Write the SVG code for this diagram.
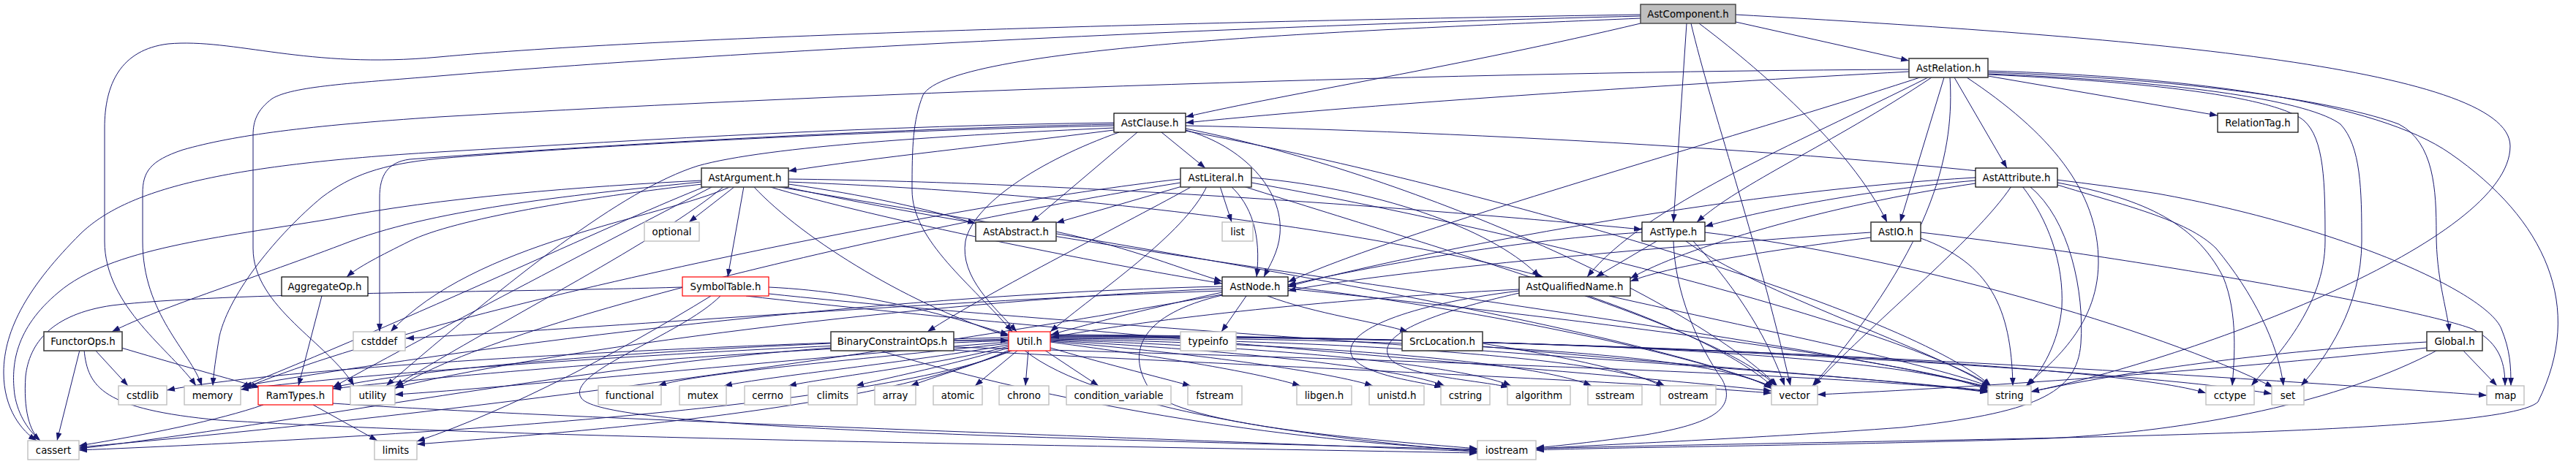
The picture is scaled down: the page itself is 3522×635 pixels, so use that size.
<svg xmlns="http://www.w3.org/2000/svg" width="3522" height="635" viewBox="0 0 3522 635">
<defs>
<style>
.node rect{fill:#fff;stroke:#000;stroke-width:1.2}
.node.g25 rect{stroke:#404040;stroke-width:1.6}
.node.sys rect{stroke:#bfbfbf;stroke-width:1.4}
.node.trunc rect{stroke:#ff0000;stroke-width:1.2}
.node.root rect{fill:#bfbfbf;stroke:#404040;stroke-width:1.4}
text{font-family:"DejaVu Sans","Liberation Sans",sans-serif;font-size:13.33px;text-anchor:middle;fill:#000}
#edges path{fill:none;stroke:#191970;stroke-width:1;marker-end:url(#arr)}
</style>
<marker id="arr" markerUnits="userSpaceOnUse" markerWidth="11" markerHeight="8" viewBox="0 0 11 8" refX="11" refY="4" orient="auto"><path d="M0,0 L11,4 L0,8 z" fill="#191970"/></marker>
</defs>
<rect width="3522" height="635" fill="#fff"/>
<g id="edges">
<path d="M2373,30 L2610,83"/>
<path d="M2243,32 C2000,90 1760,128 1621,160"/>
<path d="M2306,32 L2288,304"/>
<path d="M2323,32 C2400,90 2530,200 2580,304"/>
<path d="M2312,32 C2340,150 2400,320 2448,528"/>
<path d="M2373,20 C2900,50 3432,90 3432,200 C3432,330 3000,490 2777,536"/>
<path d="M2243,20 C1600,30 900,50 600,78 C420,95 320,52 230,60 C165,68 143,115 143,175 L143,330 C143,420 235,480 268,528"/>
<path d="M2243,22 C1700,35 1000,70 600,104 C480,114 400,118 372,135 C352,150 346,165 346,185 L346,340 C346,420 450,470 484,528"/>
<path d="M2243,25 C1900,40 1300,60 1262,130 C1248,165 1247,200 1247,260 C1247,330 1330,390 1384,454"/>
<path d="M2610,95 C2000,98 1200,125 600,160 C420,172 320,185 250,205 C205,220 195,235 195,265 L195,330 C195,430 260,480 276,528"/>
<path d="M2610,98 C2300,115 1900,140 1621,168"/>
<path d="M2625,106 C2400,180 1900,320 1761,386"/>
<path d="M2636,106 C2450,200 2250,280 2170,379"/>
<path d="M2641,106 C2500,200 2380,250 2320,304"/>
<path d="M2658,106 L2598,304"/>
<path d="M2666,106 C2672,200 2650,330 2478,528"/>
<path d="M2672,106 L2744,230"/>
<path d="M2689,106 C2800,180 2870,260 2869,360 C2868,450 2800,500 2770,528"/>
<path d="M2718,97 C3000,105 3250,140 3350,210 C3480,300 3535,420 3470,550 C3420,600 2600,600 2100,614"/>
<path d="M2718,99 C3000,108 3200,140 3280,170 C3328,195 3331,260 3331,320 C3331,380 3345,420 3349,454"/>
<path d="M2718,101 C3000,112 3160,140 3200,170 C3228,200 3229,260 3229,330 C3229,420 3180,490 3146,528"/>
<path d="M2718,102 C3000,115 3120,140 3150,165 C3178,190 3179,250 3179,330 C3179,420 3110,490 3078,528"/>
<path d="M2718,104 L3032,158"/>
<path d="M1523,178 C1350,200 1200,215 1078,234"/>
<path d="M1555,181 L1410,304"/>
<path d="M1588,181 L1648,230"/>
<path d="M1523,168 C1200,172 900,190 600,208 C300,226 172,260 110,320 C40,390 5,450 5,510 C5,560 30,590 50,603"/>
<path d="M1523,170 C1200,176 800,200 560,218 C530,222 519,240 519,270 L519,454"/>
<path d="M1523,172 C1200,178 800,200 600,217 C520,225 480,240 440,270 C380,320 314,400 300,460 C295,490 292,510 291,528"/>
<path d="M1523,175 C1300,185 1050,200 954,227 C850,260 700,380 528,528"/>
<path d="M1530,181 C1420,220 1330,280 1320,330 C1312,380 1360,420 1390,454"/>
<path d="M1621,178 C1700,200 1755,260 1750,320 C1748,345 1735,365 1728,379"/>
<path d="M1621,172 C2000,180 2600,210 2950,265 C3200,310 3400,400 3420,450 C3432,480 3433,500 3433,528"/>
<path d="M1621,176 C1900,230 2300,400 2430,528"/>
<path d="M1621,179 C2000,250 2600,420 2722,528"/>
<path d="M959,247 C800,255 600,270 450,300 C300,325 150,340 80,400 C20,450 15,500 20,540 C25,570 40,590 55,603"/>
<path d="M959,249 C800,265 600,285 480,330 C350,380 220,420 153,454"/>
<path d="M960,252 C800,270 620,300 560,330 C520,350 490,365 474,379"/>
<path d="M965,255 C850,300 600,420 329,530"/>
<path d="M975,255 C850,320 600,450 455,530"/>
<path d="M990,255 C900,330 700,430 540,528"/>
<path d="M1000,255 C900,300 650,330 534,454"/>
<path d="M1005,255 L942,304"/>
<path d="M1017,255 L995,379"/>
<path d="M1030,255 C1100,330 1250,420 1379,460"/>
<path d="M1050,255 C1200,300 1500,360 1671,388"/>
<path d="M1078,252 C1150,262 1250,280 1334,306"/>
<path d="M1078,245 C1500,250 2000,290 2245,314"/>
<path d="M1078,249 C1500,265 1900,320 2110,379"/>
<path d="M1070,255 C1500,350 2400,450 2720,530"/>
<path d="M1060,255 C1500,330 2200,440 2425,530"/>
<path d="M1616,255 L1444,305"/>
<path d="M1668,255 L1684,304"/>
<path d="M1683,255 C1710,280 1725,320 1718,379"/>
<path d="M1630,255 C1550,300 1350,400 1268,454"/>
<path d="M1650,255 C1620,320 1500,400 1436,454"/>
<path d="M1614,245 C1300,280 600,420 332,532"/>
<path d="M1614,250 C1300,300 700,430 540,532"/>
<path d="M1711,243 C1900,260 2050,320 2105,379"/>
<path d="M1711,250 C2100,320 2600,450 2722,528"/>
<path d="M1700,255 C2000,350 2350,450 2428,528"/>
<path d="M2701,243 C2400,260 2000,330 1761,392"/>
<path d="M2701,247 C2550,260 2400,290 2331,310"/>
<path d="M2701,251 C2500,280 2300,340 2229,381"/>
<path d="M2750,255 C2700,330 2550,450 2480,528"/>
<path d="M2765,255 C2800,300 2822,360 2819,420 C2815,470 2790,510 2772,528"/>
<path d="M2775,255 C2830,300 2850,400 2845,470 C2840,540 2780,565 2600,585 C2400,600 2200,608 2100,614"/>
<path d="M2813,250 C2920,270 3000,300 3040,380 C3060,430 3055,490 3052,528"/>
<path d="M2813,253 C2900,280 2990,300 3030,340 C3080,400 3115,470 3122,528"/>
<path d="M2558,318 C2300,335 1900,370 1761,398"/>
<path d="M2558,325 C2400,345 2280,365 2229,385"/>
<path d="M2626,318 C2900,350 3300,420 3380,450 C3420,470 3425,500 3425,528"/>
<path d="M2626,326 C2720,360 2750,420 2752,528"/>
<path d="M2265,330 L2182,379"/>
<path d="M2245,318 C2050,330 1850,370 1761,390"/>
<path d="M2288,330 C2290,400 2320,470 2355,520 C2375,560 2340,580 2250,595 C2180,605 2130,610 2100,613"/>
<path d="M2305,330 C2400,400 2650,480 2722,530"/>
<path d="M2315,330 C2380,400 2420,470 2440,528"/>
<path d="M2331,318 C2600,350 2950,450 3108,530"/>
<path d="M1444,317 C1550,340 1620,370 1671,385"/>
<path d="M1704,405 L1670,454"/>
<path d="M1733,405 C1800,430 1880,440 1925,454"/>
<path d="M1671,400 C1580,420 1500,440 1437,458"/>
<path d="M1671,392 C1300,400 800,450 333,528"/>
<path d="M1671,395 C1300,410 800,470 541,530"/>
<path d="M1671,403 C1300,470 700,560 108,612"/>
<path d="M1671,404 C1560,430 1540,480 1570,530 C1600,580 1850,600 2020,614"/>
<path d="M1761,395 C2100,430 2600,490 2720,532"/>
<path d="M1761,392 C2000,420 2300,480 2425,530"/>
<path d="M1671,398 C1300,410 800,450 555,463"/>
<path d="M1051,393 C1200,400 1320,440 1379,458"/>
<path d="M985,405 C930,460 770,510 795,545 C820,580 1200,595 2020,615"/>
<path d="M933,393 C700,400 300,400 153,418 C70,430 40,470 35,515 C32,560 40,590 55,603"/>
<path d="M1051,402 C1500,450 2400,500 2720,535"/>
<path d="M1020,405 C1500,460 2200,510 2422,535"/>
<path d="M972,405 C850,480 700,560 570,604"/>
<path d="M1136,470 C900,480 600,500 456,530"/>
<path d="M1136,476 C800,500 400,580 108,614"/>
<path d="M1200,479 C1400,540 1700,600 2020,616"/>
<path d="M1304,475 C1800,490 2500,510 2720,536"/>
<path d="M1304,466 L1379,466"/>
<path d="M1300,479 C1700,500 2200,520 2422,538"/>
<path d="M1385,479 C1330,500 1280,515 1245,528"/>
<path d="M1392,479 L1333,528"/>
<path d="M1406,479 L1402,528"/>
<path d="M1428,479 L1502,528"/>
<path d="M1436,476 C1500,495 1580,515 1628,528"/>
<path d="M1436,468 C1600,490 1720,510 1778,528"/>
<path d="M1436,467 C1650,485 1820,510 1877,528"/>
<path d="M1436,466 C1700,480 1920,505 1975,528"/>
<path d="M1436,465 C1750,475 2000,500 2066,528"/>
<path d="M1436,464 C1800,470 2100,495 2176,528"/>
<path d="M1436,463 C1850,465 2200,490 2276,528"/>
<path d="M1436,462 C1900,462 2350,480 2422,532"/>
<path d="M1436,461 C2000,460 2600,480 2718,534"/>
<path d="M1436,460 C2200,462 2900,500 3016,538"/>
<path d="M1436,459 C2200,460 2950,510 3106,539"/>
<path d="M1436,458 C2300,462 3100,520 3400,541"/>
<path d="M1379,470 C1200,490 950,510 900,528"/>
<path d="M1379,472 C1250,495 1050,515 990,528"/>
<path d="M1379,474 C1280,500 1120,518 1078,528"/>
<path d="M1379,476 C1300,500 1200,520 1170,528"/>
<path d="M1379,462 C1000,470 400,500 228,534"/>
<path d="M1379,464 C1000,475 500,510 329,533"/>
<path d="M1379,466 C1000,480 600,515 455,532"/>
<path d="M1379,468 C1100,490 700,530 540,540"/>
<path d="M1385,479 C1200,560 500,600 108,616"/>
<path d="M1380,479 C1200,560 800,590 570,608"/>
<path d="M1400,479 C1500,560 1800,600 2020,618"/>
<path d="M360,554 C300,575 200,595 108,610"/>
<path d="M428,554 L516,603"/>
<path d="M455,552 C800,575 1600,600 2020,618"/>
<path d="M130,479 L175,528"/>
<path d="M166,476 C230,495 300,515 355,530"/>
<path d="M109,479 L78,603"/>
<path d="M115,479 C120,530 140,560 300,575 C700,600 1500,610 2020,620"/>
<path d="M440,405 L408,528"/>
<path d="M3318,468 C3100,480 2900,510 2777,536"/>
<path d="M3318,476 C3000,510 2700,530 2485,540"/>
<path d="M3333,479 C3200,550 3000,590 2800,600 C2500,610 2200,612 2100,616"/>
<path d="M3367,479 L3414,528"/>
<path d="M2027,470 C2150,490 2240,510 2275,530"/>
<path d="M2027,474 C2300,500 2600,520 2718,537"/>
<path d="M2077,396 C1800,410 1550,440 1437,462"/>
<path d="M2077,398 C1900,420 1830,460 1850,490 C1870,515 1940,522 1972,530"/>
<path d="M2077,401 C1950,430 1880,460 1900,490 C1920,515 2020,520 2063,530"/>
<path d="M2172,405 C2300,450 2380,490 2425,530"/>
<path d="M2200,405 C2400,450 2650,500 2722,530"/>
</g>
<g id="n-AstComponent" class="node root"><rect x="2243" y="6" width="130" height="26"/><text x="2308" y="23.5">AstComponent.h</text></g>
<g id="n-AstRelation" class="node g25"><rect x="2610" y="80" width="108" height="26"/><text x="2664" y="97.5">AstRelation.h</text></g>
<g id="n-RelationTag" class="node"><rect x="3032" y="155" width="110" height="26"/><text x="3087" y="172.5">RelationTag.h</text></g>
<g id="n-AstClause" class="node"><rect x="1523" y="155" width="98" height="26"/><text x="1572" y="172.5">AstClause.h</text></g>
<g id="n-AstArgument" class="node g25"><rect x="959" y="230" width="119" height="26"/><text x="1018.5" y="247.5">AstArgument.h</text></g>
<g id="n-AstLiteral" class="node g25"><rect x="1614" y="230" width="97" height="26"/><text x="1662.5" y="247.5">AstLiteral.h</text></g>
<g id="n-AstAttribute" class="node"><rect x="2701" y="230" width="112" height="26"/><text x="2757" y="247.5">AstAttribute.h</text></g>
<g id="n-AstIO" class="node g25"><rect x="2558" y="304" width="68" height="26"/><text x="2592" y="321.5">AstIO.h</text></g>
<g id="n-AstType" class="node"><rect x="2245" y="304" width="86" height="26"/><text x="2288" y="321.5">AstType.h</text></g>
<g id="n-AstAbstract" class="node g25"><rect x="1334" y="304" width="110" height="26"/><text x="1389" y="321.5">AstAbstract.h</text></g>
<g id="n-list" class="node sys"><rect x="1671" y="304" width="42" height="26"/><text x="1692" y="321.5">list</text></g>
<g id="n-optional" class="node sys"><rect x="881" y="304" width="75" height="26"/><text x="918.5" y="321.5">optional</text></g>
<g id="n-AstNode" class="node"><rect x="1671" y="379" width="90" height="26"/><text x="1716" y="396.5">AstNode.h</text></g>
<g id="n-SymbolTable" class="node trunc"><rect x="933" y="379" width="118" height="26"/><text x="992" y="396.5">SymbolTable.h</text></g>
<g id="n-AggregateOp" class="node"><rect x="385" y="379" width="118" height="26"/><text x="444" y="396.5">AggregateOp.h</text></g>
<g id="n-AstQualifiedName" class="node"><rect x="2077" y="379" width="152" height="26"/><text x="2153" y="396.5">AstQualifiedName.h</text></g>
<g id="n-Global" class="node g25"><rect x="3318" y="454" width="76" height="26"/><text x="3356" y="471.5">Global.h</text></g>
<g id="n-FunctorOps" class="node g25"><rect x="60" y="454" width="107" height="26"/><text x="113.5" y="471.5">FunctorOps.h</text></g>
<g id="n-cstddef" class="node sys"><rect x="483" y="454" width="71" height="26"/><text x="518.5" y="471.5">cstddef</text></g>
<g id="n-BinaryConstraintOps" class="node g25"><rect x="1136" y="454" width="168" height="26"/><text x="1220" y="471.5">BinaryConstraintOps.h</text></g>
<g id="n-Util" class="node trunc"><rect x="1379" y="454" width="57" height="26"/><text x="1407.5" y="471.5">Util.h</text></g>
<g id="n-typeinfo" class="node sys"><rect x="1614" y="454" width="76" height="26"/><text x="1652" y="471.5">typeinfo</text></g>
<g id="n-SrcLocation" class="node g25"><rect x="1917" y="454" width="110" height="26"/><text x="1972" y="471.5">SrcLocation.h</text></g>
<g id="n-cstdlib" class="node sys"><rect x="162" y="528" width="66" height="26"/><text x="195" y="545.5">cstdlib</text></g>
<g id="n-memory" class="node sys"><rect x="252" y="528" width="77" height="26"/><text x="290.5" y="545.5">memory</text></g>
<g id="n-RamTypes" class="node trunc"><rect x="353" y="528" width="102" height="26"/><text x="404" y="545.5">RamTypes.h</text></g>
<g id="n-utility" class="node sys"><rect x="479" y="528" width="61" height="26"/><text x="509.5" y="545.5">utility</text></g>
<g id="n-functional" class="node sys"><rect x="818" y="528" width="86" height="26"/><text x="861" y="545.5">functional</text></g>
<g id="n-mutex" class="node sys"><rect x="929" y="528" width="64" height="26"/><text x="961" y="545.5">mutex</text></g>
<g id="n-cerrno" class="node sys"><rect x="1018" y="528" width="63" height="26"/><text x="1049.5" y="545.5">cerrno</text></g>
<g id="n-climits" class="node sys"><rect x="1105" y="528" width="67" height="26"/><text x="1138.5" y="545.5">climits</text></g>
<g id="n-array" class="node sys"><rect x="1196" y="528" width="56" height="26"/><text x="1224" y="545.5">array</text></g>
<g id="n-atomic" class="node sys"><rect x="1276" y="528" width="67" height="26"/><text x="1309.5" y="545.5">atomic</text></g>
<g id="n-chrono" class="node sys"><rect x="1366" y="528" width="68" height="26"/><text x="1400" y="545.5">chrono</text></g>
<g id="n-condition_variable" class="node sys"><rect x="1458" y="528" width="143" height="26"/><text x="1529.5" y="545.5">condition_variable</text></g>
<g id="n-fstream" class="node sys"><rect x="1624" y="528" width="74" height="26"/><text x="1661" y="545.5">fstream</text></g>
<g id="n-libgen" class="node sys"><rect x="1773" y="528" width="75" height="26"/><text x="1810.5" y="545.5">libgen.h</text></g>
<g id="n-unistd" class="node sys"><rect x="1872" y="528" width="75" height="26"/><text x="1909.5" y="545.5">unistd.h</text></g>
<g id="n-cstring" class="node sys"><rect x="1970" y="528" width="67" height="26"/><text x="2003.5" y="545.5">cstring</text></g>
<g id="n-algorithm" class="node sys"><rect x="2061" y="528" width="86" height="26"/><text x="2104" y="545.5">algorithm</text></g>
<g id="n-sstream" class="node sys"><rect x="2171" y="528" width="74" height="26"/><text x="2208" y="545.5">sstream</text></g>
<g id="n-ostream" class="node sys"><rect x="2270" y="528" width="76" height="26"/><text x="2308" y="545.5">ostream</text></g>
<g id="n-vector" class="node sys"><rect x="2422" y="528" width="63" height="26"/><text x="2453.5" y="545.5">vector</text></g>
<g id="n-string" class="node sys"><rect x="2718" y="528" width="59" height="26"/><text x="2747.5" y="545.5">string</text></g>
<g id="n-cctype" class="node sys"><rect x="3016" y="528" width="66" height="26"/><text x="3049" y="545.5">cctype</text></g>
<g id="n-set" class="node sys"><rect x="3106" y="528" width="44" height="26"/><text x="3128" y="545.5">set</text></g>
<g id="n-map" class="node sys"><rect x="3400" y="528" width="51" height="26"/><text x="3425.5" y="545.5">map</text></g>
<g id="n-cassert" class="node sys"><rect x="38" y="603" width="70" height="26"/><text x="73" y="620.5">cassert</text></g>
<g id="n-limits" class="node sys"><rect x="512" y="603" width="58" height="26"/><text x="541" y="620.5">limits</text></g>
<g id="n-iostream" class="node sys"><rect x="2020" y="603" width="80" height="26"/><text x="2060" y="620.5">iostream</text></g>
</svg>
